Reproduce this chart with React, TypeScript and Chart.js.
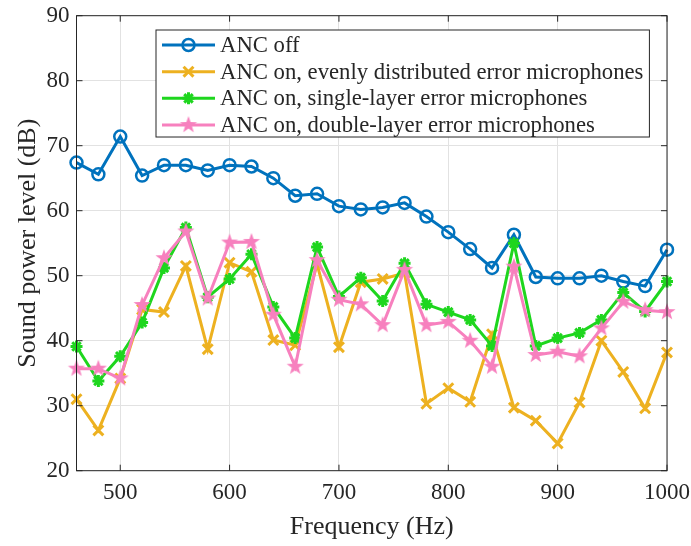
import React, { useEffect, useRef } from 'react';
import { Chart, registerables } from 'chart.js';

Chart.register(...registerables);

// ---------- data ----------
const frequencies = [460, 480, 500, 520, 540, 560, 580, 600, 620, 640, 660, 680, 700, 720, 740, 760, 780, 800, 820, 840, 860, 880, 900, 920, 940, 960, 980, 1000];
const ancOff = [67.4, 65.6, 71.4, 65.4, 67.0, 67.0, 66.2, 67.0, 66.8, 65.0, 62.3, 62.6, 60.7, 60.2, 60.5, 61.2, 59.1, 56.7, 54.1, 51.2, 56.3, 49.8, 49.6, 49.6, 50.0, 49.1, 48.4, 54.0];
const ancEvenly = [31.0, 26.2, 34.2, 44.8, 44.4, 51.5, 38.7, 52.0, 50.6, 40.1, 39.3, 51.8, 39.0, 49.0, 49.5, 50.4, 30.3, 32.7, 30.6, 41.0, 29.7, 27.7, 24.2, 30.5, 40.0, 35.2, 29.6, 38.2];
const ancSingle = [39.1, 33.8, 37.6, 42.8, 51.2, 57.4, 46.7, 49.5, 53.3, 45.2, 40.4, 54.4, 46.8, 49.7, 46.1, 51.9, 45.6, 44.4, 43.2, 39.2, 55.0, 39.2, 40.4, 41.2, 43.2, 47.4, 44.5, 49.1];
const ancDouble = [35.7, 35.7, 34.2, 45.5, 52.7, 56.8, 46.5, 55.1, 55.2, 44.0, 36.0, 52.4, 46.3, 45.6, 42.4, 50.9, 42.4, 42.9, 40.0, 36.0, 51.4, 37.8, 38.3, 37.6, 41.9, 46.0, 44.7, 44.4];
const seriesLabels = [
  'ANC off',
  'ANC on, evenly distributed error microphones',
  'ANC on, single-layer error microphones',
  'ANC on, double-layer error microphones',
];
const xTickValues = [500, 600, 700, 800, 900, 1000];
const yTickValues = [20, 30, 40, 50, 60, 70, 80, 90];

// ---------- style ----------
const FONT = "'Liberation Serif', 'Times New Roman', serif";
const TEXT = '#262626';
const BLUE = '#0072BD';
const YELLOW = '#EDB120';
const GREEN = '#1ED61E';
const PINK = '#F780BE';

function makeStar(color: string, r: number): HTMLCanvasElement {
  const size = Math.ceil(r * 2 + 2);
  const c = document.createElement('canvas');
  c.width = size;
  c.height = size;
  const ctx = c.getContext('2d') as CanvasRenderingContext2D;
  const cx = size / 2;
  const cy = size / 2;
  ctx.beginPath();
  for (let i = 0; i < 10; i++) {
    const rad = i % 2 === 0 ? r : r * 0.4;
    const a = -Math.PI / 2 + (i * Math.PI) / 5;
    ctx.lineTo(cx + rad * Math.cos(a), cy + rad * Math.sin(a));
  }
  ctx.closePath();
  ctx.fillStyle = color;
  ctx.fill();
  return c;
}

function drawMarker(ctx: CanvasRenderingContext2D, ds: any, x: number, y: number) {
  const style = ds.pointStyle;
  const r = ds.pointRadius;
  ctx.save();
  ctx.strokeStyle = ds.pointBorderColor;
  ctx.lineWidth = ds.pointBorderWidth;
  if (typeof style !== 'string') {
    ctx.drawImage(style, x - style.width / 2, y - style.height / 2);
  } else if (style === 'circle') {
    ctx.beginPath();
    ctx.arc(x, y, r, 0, Math.PI * 2);
    ctx.fillStyle = ds.pointBackgroundColor;
    ctx.fill();
    ctx.stroke();
  } else {
    const d = r * Math.SQRT1_2;
    ctx.beginPath();
    ctx.moveTo(x - d, y - d); ctx.lineTo(x + d, y + d);
    ctx.moveTo(x - d, y + d); ctx.lineTo(x + d, y - d);
    if (style === 'star') {
      ctx.moveTo(x - r, y); ctx.lineTo(x + r, y);
      ctx.moveTo(x, y - r); ctx.lineTo(x, y + r);
    }
    ctx.stroke();
  }
  ctx.restore();
}

const boxPlugin = {
  id: 'axesBox',
  afterDatasetsDraw(chart: any) {
    const { ctx, chartArea: a } = chart;
    const xs = chart.scales.x;
    const ys = chart.scales.y;
    const tl = 6;
    ctx.save();
    ctx.strokeStyle = TEXT;
    ctx.lineWidth = 1;
    ctx.strokeRect(a.left, a.top, a.right - a.left, a.bottom - a.top);
    ctx.beginPath();
    xTickValues.forEach((v) => {
      const px = xs.getPixelForValue(v);
      ctx.moveTo(px, a.bottom); ctx.lineTo(px, a.bottom - tl);
      ctx.moveTo(px, a.top); ctx.lineTo(px, a.top + tl);
    });
    yTickValues.forEach((v) => {
      const py = ys.getPixelForValue(v);
      ctx.moveTo(a.left, py); ctx.lineTo(a.left + tl, py);
      ctx.moveTo(a.right, py); ctx.lineTo(a.right - tl, py);
    });
    ctx.stroke();
    ctx.restore();
  },
};

const legendPlugin = {
  id: 'innerLegend',
  afterDraw(chart: any) {
    const { ctx, chartArea: a } = chart;
    const datasets = chart.data.datasets;
    const left = a.left + 79.5;
    const top = a.top + 14.3;
    const rowH = 26.67;
    ctx.save();
    ctx.font = `22.7px ${FONT}`;
    const maxW = Math.max(...datasets.map((d: any) => ctx.measureText(d.label).width));
    const w = 64 + maxW + 6;
    const h = 15 + rowH * (datasets.length - 1) + 12;
    ctx.fillStyle = '#ffffff';
    ctx.fillRect(left, top, w, h);
    ctx.strokeStyle = TEXT;
    ctx.lineWidth = 1;
    ctx.strokeRect(left, top, w, h);
    datasets.forEach((ds: any, i: number) => {
      const y = top + 15 + rowH * i;
      ctx.save();
      ctx.strokeStyle = ds.borderColor;
      ctx.lineWidth = ds.borderWidth;
      ctx.beginPath();
      ctx.moveTo(left + 6, y);
      ctx.lineTo(left + 59, y);
      ctx.stroke();
      ctx.restore();
      drawMarker(ctx, ds, left + 32.5, y);
      ctx.fillStyle = TEXT;
      ctx.textBaseline = 'middle';
      ctx.textAlign = 'left';
      ctx.fillText(ds.label, left + 64, y + 1);
    });
    ctx.restore();
  },
};

export default function App() {
  const canvasRef = useRef<HTMLCanvasElement | null>(null);

  useEffect(() => {
    const canvas = canvasRef.current;
    if (!canvas) return;
    const star = makeStar(PINK, 9);
    const toPts = (arr: number[]) => frequencies.map((f, i) => ({ x: f, y: arr[i] }));
    const common = { borderWidth: 3, tension: 0, clip: false as any, fill: false };
    const chart = new Chart(canvas, {
      type: 'line',
      data: {
        datasets: [
          { ...common, label: seriesLabels[0], data: toPts(ancOff), borderColor: BLUE, pointStyle: 'circle', pointRadius: 6, pointBorderWidth: 2.5, pointBorderColor: BLUE, pointBackgroundColor: 'rgba(255,255,255,0)', order: 3 },
          { ...common, label: seriesLabels[1], data: toPts(ancEvenly), borderColor: YELLOW, pointStyle: 'crossRot', pointRadius: 7, pointBorderWidth: 3, pointBorderColor: YELLOW, pointBackgroundColor: YELLOW, order: 2 },
          { ...common, label: seriesLabels[2], data: toPts(ancSingle), borderColor: GREEN, pointStyle: 'star', pointRadius: 6, pointBorderWidth: 3, pointBorderColor: GREEN, pointBackgroundColor: GREEN, order: 1 },
          { ...common, label: seriesLabels[3], data: toPts(ancDouble), borderColor: PINK, pointStyle: star as any, pointRadius: 9, pointBorderWidth: 1, pointBorderColor: PINK, pointBackgroundColor: PINK, order: 0 },
        ] as any,
      },
      options: {
        responsive: false,
        animation: false,
        devicePixelRatio: 1,
        layout: { padding: { top: 15.7, right: 24, left: 0, bottom: 0 } },
        plugins: { legend: { display: false }, tooltip: { enabled: false } },
        scales: {
          x: {
            type: 'linear',
            min: 460,
            max: 1000,
            afterBuildTicks: (s: any) => { s.ticks = xTickValues.map((v) => ({ value: v })); },
            afterFit: (s: any) => { s.height = 75.3; s.paddingLeft = 0; s.paddingRight = 0; },
            grid: { color: '#e2e2e2', lineWidth: 1, drawTicks: false },
            border: { display: false },
            ticks: { font: { family: FONT, size: 23 }, color: TEXT, padding: 8.5, maxRotation: 0, autoSkip: false, callback: (v: any) => String(v) },
            title: { display: true, text: 'Frequency (Hz)', font: { family: FONT, size: 26 }, color: TEXT, padding: { top: 0, bottom: 3 } },
          },
          y: {
            type: 'linear',
            min: 20,
            max: 90,
            afterBuildTicks: (s: any) => { s.ticks = yTickValues.map((v) => ({ value: v })); },
            afterFit: (s: any) => { s.width = 76.5; s.paddingTop = 0; s.paddingBottom = 0; },
            grid: { color: '#e2e2e2', lineWidth: 1, drawTicks: false },
            border: { display: false },
            ticks: { font: { family: FONT, size: 23 }, color: TEXT, padding: 7, autoSkip: false, callback: (v: any) => String(v) },
            title: { display: true, text: 'Sound power level (dB)', font: { family: FONT, size: 26 }, color: TEXT, padding: { top: 13, bottom: 0 } },
          },
        } as any,
      },
      plugins: [boxPlugin, legendPlugin],
    });
    return () => chart.destroy();
  }, []);

  return (
    <div style={{ position: 'absolute', left: 0, top: 0, width: 691, height: 546, background: '#fff' }}>
      <canvas ref={canvasRef} width={691} height={546} style={{ display: 'block' }} />
    </div>
  );
}
